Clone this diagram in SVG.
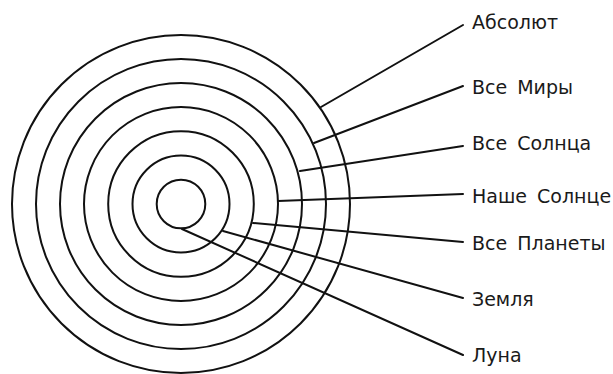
<svg xmlns="http://www.w3.org/2000/svg" width="613" height="374" viewBox="0 0 613 374">
<style>
.ring{fill:none;stroke:#111;stroke-width:2}
.conn line{stroke:#111;stroke-width:2;stroke-linecap:round}
text{font-family:"DejaVu Sans",Verdana,sans-serif;font-size:19px;fill:#1a1a1a;word-spacing:4px}
</style>
<rect width="613" height="374" fill="#fff"/>
<g id="rings">
<circle id="luna-ring" class="ring" cx="181" cy="204" r="24.3"/>
<circle id="zemlya-ring" class="ring" cx="181" cy="204" r="48.5"/>
<circle id="planety-ring" class="ring" cx="181" cy="204" r="72.8"/>
<circle id="nashe-ring" class="ring" cx="181" cy="204" r="97"/>
<circle id="solntsa-ring" class="ring" cx="181" cy="204" r="121"/>
<circle id="miry-ring" class="ring" cx="181" cy="204" r="145"/>
<circle id="absolyut-ring" class="ring" cx="181" cy="204" r="169"/>
</g>
<g id="connectors" class="conn">
<line x1="321" y1="107" x2="463" y2="25"/>
<line x1="314" y1="143" x2="463" y2="86"/>
<line x1="300" y1="171" x2="463" y2="146"/>
<line x1="278" y1="201" x2="463" y2="194"/>
<line x1="253" y1="223" x2="463" y2="242"/>
<line x1="223" y1="231" x2="463" y2="298"/>
<line x1="182" y1="229" x2="463" y2="355"/>
</g>
<g id="label-absolyut"><text x="472" y="28.5">Абсолют</text></g>
<g id="label-miry"><text x="472" y="93.5">Все Миры</text></g>
<g id="label-solntsa"><text x="472" y="149.5">Все Солнца</text></g>
<g id="label-nashe"><text x="472" y="203">Наше Солнце</text></g>
<g id="label-planety"><text x="472" y="249.5">Все Планеты</text></g>
<g id="label-zemlya"><text x="472" y="306">Земля</text></g>
<g id="label-luna"><text x="472" y="362">Луна</text></g>
</svg>
